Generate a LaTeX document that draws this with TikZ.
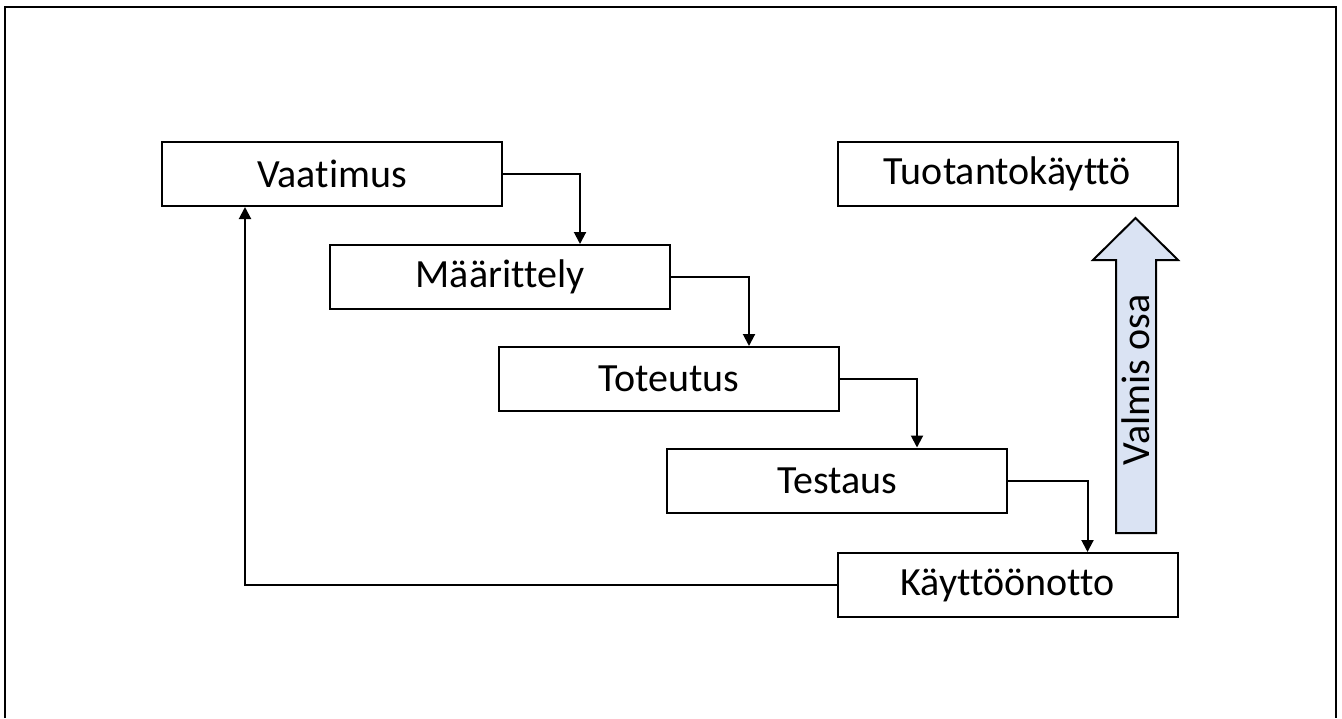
\documentclass[tikz,border=0pt]{standalone}
\usepackage{fontspec}
\setmainfont[Ligatures=CommonOff]{Carlito}
\usetikzlibrary{arrows.meta,calc,positioning}
\definecolor{PaleBlue}{RGB}{218,227,243}

\begin{document}
\begin{tikzpicture}[x=.5pt,y=-.5pt,
  vaihe/.style={draw,line width=1pt,minimum width=170pt,minimum height=32pt,inner sep=0pt,font=\fontsize{20}{24}\selectfont},
  nuoli/.style={line width=1pt,-{Triangle[length=6pt,width=6pt]}}]
\useasboundingbox (0,0) rectangle (1342,718);
\draw[line width=1pt] (5,718)--(5,7)--(1336,7)--(1336,718);
% vaiheet
\node[vaihe] (vaat) at (332,174) {Vaatimus};
\node[vaihe] (maar) at (500,277) {Määrittely};
\node[vaihe] (tot) at (669,379) {Toteutus};
\node[vaihe] (test) at (837,480.5) {Testaus};
\node[vaihe] (kayt) at (1007.5,585) {Käyttöönotto};
\node[vaihe] (tuot) at (1007.5,174) {Tuotantokäyttö};
% vesiputous
\draw[nuoli] (vaat.east) -| ([xshift=40pt]maar.north);
\draw[nuoli] (maar.east) -| ([xshift=40pt]tot.north);
\draw[nuoli] (tot.east) -| ([xshift=40pt]test.north);
\draw[nuoli] (test.east) -| ([xshift=40pt]kayt.north);
\draw[nuoli] (kayt.west) -| ([xshift=-43.5pt]vaat.south);
% valmis osa
\draw[line width=1pt,fill=PaleBlue] (1116,533)--(1116,260)--(1093,260)--(1135.5,218)--(1178,260)--(1156,260)--(1156,533)--cycle;
\node[rotate=90,font=\fontsize{20}{24}\selectfont] (valm) at (1136,380) {Valmis osa};
\end{tikzpicture}
\end{document}
